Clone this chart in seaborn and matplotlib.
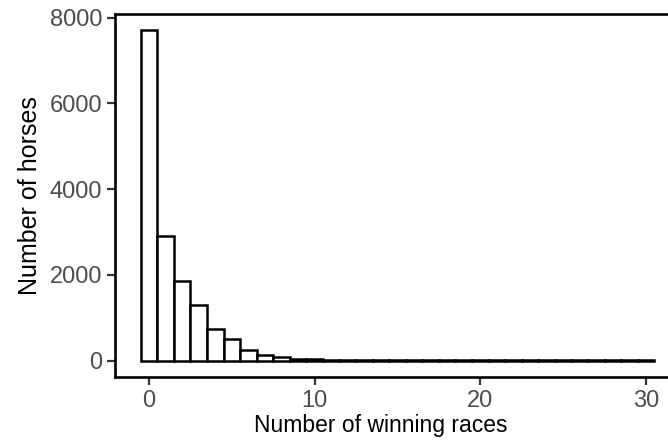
import matplotlib
matplotlib.use("Agg")
import matplotlib.pyplot as plt
import pandas as pd
import seaborn as sns

# number of winning races (bin centres) and number of horses per bin
wins = list(range(31))
horses = [7700, 2900, 1850, 1305, 745, 495, 255, 125, 80, 45,
          30, 18, 12, 8, 6, 10, 4, 3, 2, 2,
          1, 1, 1, 1, 1, 1, 1, 1, 1, 1, 1]

df = pd.DataFrame({"wins": wins, "horses": horses})

sns.set_style("ticks")
plt.rcParams['font.family'] = ['Liberation Sans', 'DejaVu Sans']

fig = plt.figure(figsize=(6.68, 4.44), dpi=100)
ax = fig.add_axes([115 / 668, 67 / 444, 565 / 668, 363 / 444])

sns.histplot(data=df, x="wins", weights="horses", discrete=True,
             color="white", edgecolor="black", linewidth=1.8, alpha=1,
             ax=ax)

ax.set_xlim(-2.05, 32.05)
ax.set_ylim(-385, 8085)
ax.set_xticks([0, 10, 20, 30])
ax.set_yticks([0, 2000, 4000, 6000, 8000])

for s in ax.spines.values():
    s.set_visible(True)
    s.set_linewidth(1.9)
    s.set_color("black")

ax.tick_params(axis="both", length=6, width=1.6, color="#333333",
               labelcolor="#4d4d4d", labelsize=17, pad=3)
ax.set_xlabel("Number of winning races", fontsize=16.5, color="black")
ax.set_ylabel("Number of horses", fontsize=18, color="black", labelpad=6)
# the panel runs past the right edge, so centre the title on the visible part
ax.xaxis.set_label_coords(0.471, -0.102)

fig.savefig("out.png", dpi=100)
